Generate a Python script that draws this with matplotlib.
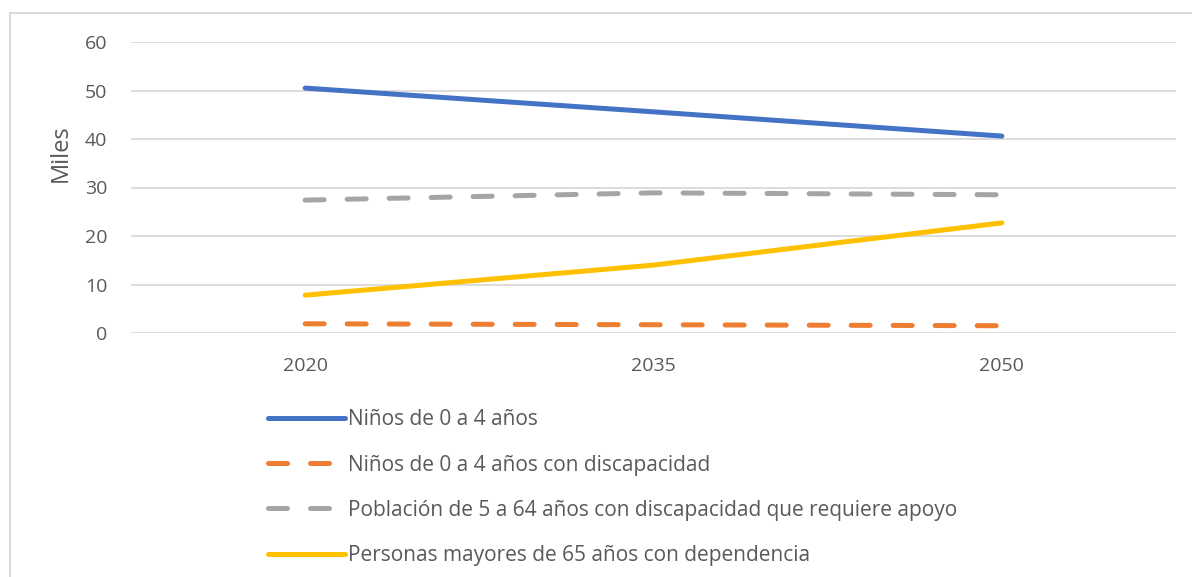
import matplotlib
matplotlib.use("Agg")
import matplotlib.pyplot as plt
from matplotlib.patches import Rectangle

years = ["2020", "2035", "2050"]
ninos = [50.5, 45.6, 40.6]
ninos_disc = [1.9, 1.7, 1.5]
pob_5_64 = [27.4, 28.9, 28.5]
mayores_65 = [7.8, 14.0, 22.7]
labels = ["Niños de 0 a 4 años",
          "Niños de 0 a 4 años con discapacidad",
          "Población de 5 a 64 años con discapacidad que requiere apoyo",
          "Personas mayores de 65 años con dependencia"]
yticks = [0, 10, 20, 30, 40, 50, 60]

plt.rcParams['font.family'] = ['Open Sans', 'DejaVu Sans']
txt = '#595959'

fig = plt.figure(figsize=(11.92, 5.77), dpi=100)
fig.patches.append(Rectangle((10/1192, -0.1), 1.2, 1 - 13/577 + 0.1,
                             transform=fig.transFigure, fill=False,
                             edgecolor='#d9d9d9', linewidth=1.5))
ax = fig.add_axes([131/1192, 1 - 333/577, (1176 - 131)/1192, (333 - 42)/577])

x = list(range(len(years)))
lw = 3.6
ax.plot(x, ninos, color='#4472c4', lw=lw, solid_capstyle='round', label=labels[0])
ax.plot(x, ninos_disc, color='#ed7d31', lw=lw, dash_capstyle='round',
        dashes=(3.8, 4.6), label=labels[1])
ax.plot(x, pob_5_64, color='#a5a5a5', lw=lw, dash_capstyle='round',
        dashes=(3.8, 4.6), label=labels[2])
ax.plot(x, mayores_65, color='#ffc000', lw=lw, solid_capstyle='round', label=labels[3])

ax.set_xlim(-0.5, 2.5)
ax.set_ylim(0, 60)
ax.set_yticks(yticks)
ax.set_xticks(x)
ax.set_xticklabels(years)
ax.grid(axis='y', color='#d9d9d9', lw=1.3)
ax.set_axisbelow(True)
for s in ax.spines.values():
    s.set_visible(False)
ax.tick_params(axis='both', length=0, labelsize=14, colors=txt)
ax.tick_params(axis='y', pad=17)
ax.tick_params(axis='x', pad=17)
ax.set_ylabel('Miles', fontsize=17, color=txt)
ax.yaxis.set_label_coords((73 - 131) / 1045, (333 - 153) / 291)

leg = fig.legend(loc='upper left', bbox_to_anchor=(260/1192, 1 - 401/577),
                 frameon=False, fontsize=15, handlelength=3.7,
                 handletextpad=0.1, labelspacing=1.16, borderaxespad=0)
for t in leg.get_texts():
    t.set_color(txt)

fig.savefig('out.png', dpi=100)
